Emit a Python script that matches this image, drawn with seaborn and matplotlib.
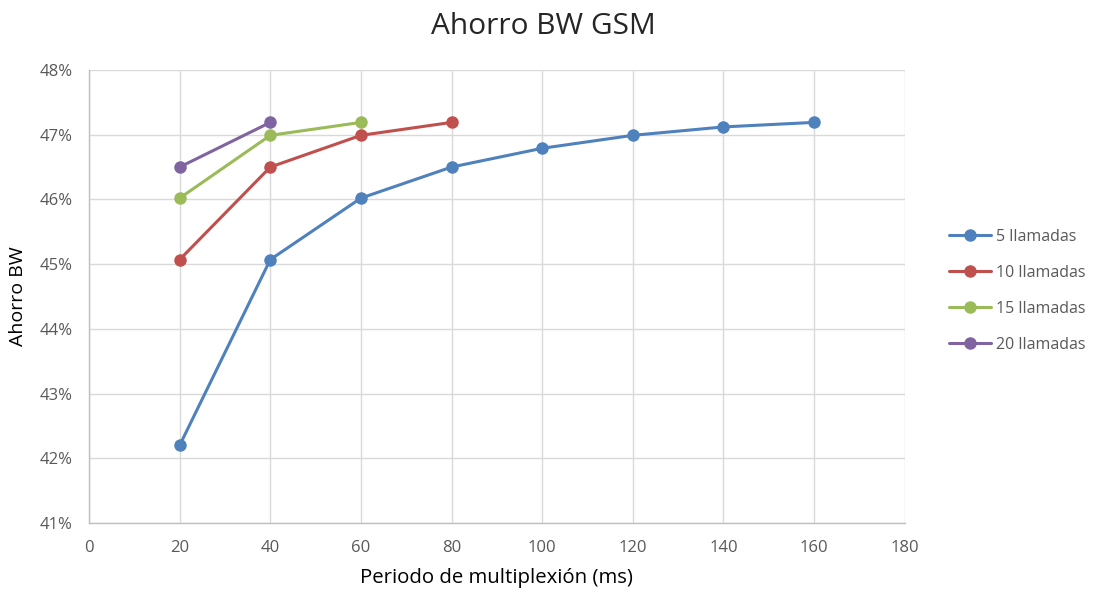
import matplotlib
matplotlib.use("Agg")
import matplotlib.pyplot as plt
import seaborn as sns
import pandas as pd
from matplotlib.ticker import FuncFormatter, MultipleLocator

periodo = [20, 40, 60, 80, 100, 120, 140, 160]
series_names = ["5 llamadas", "10 llamadas", "15 llamadas", "20 llamadas"]
s5 = [42.2, 45.07, 46.02, 46.5, 46.79, 46.99, 47.12, 47.19]
s10 = [45.07, 46.5, 46.99, 47.19]
s15 = [46.02, 46.99, 47.19]
s20 = [46.5, 47.19]
colors = ["#4f81bd", "#c0504d", "#9bbb59", "#8064a2"]

rows = []
for name, vals in zip(series_names, [s5, s10, s15, s20]):
    for x, v in zip(periodo, vals):
        rows.append({"Periodo": x, "Ahorro": v, "Serie": name})
df = pd.DataFrame(rows)

sns.set_theme(style="white")
plt.rcParams['font.family'] = ['Open Sans', 'DejaVu Sans']

fig = plt.figure(figsize=(10.94, 5.92), dpi=100)
ax = fig.add_axes([0.0814, 0.1166, 0.7456, 0.7652])

sns.lineplot(data=df, x="Periodo", y="Ahorro", hue="Serie", hue_order=series_names,
             palette=colors, marker="o", markersize=9, markeredgewidth=0,
             linewidth=2.2, ax=ax, sort=False)

ax.set_xlim(0, 180)
ax.set_ylim(41, 48)
ax.xaxis.set_major_locator(MultipleLocator(20))
ax.yaxis.set_major_locator(MultipleLocator(1))
ax.yaxis.set_major_formatter(FuncFormatter(lambda v, p: f"{v:.0f}%"))
ax.grid(True, color="#d9d9d9", linewidth=1)
ax.set_axisbelow(True)
for s in ["top", "right"]:
    ax.spines[s].set_visible(False)
for s in ["left", "bottom"]:
    ax.spines[s].set_color("#bfbfbf")
    ax.spines[s].set_linewidth(1)
ax.tick_params(axis="both", labelsize=12, colors="#595959", length=0)
ax.tick_params(axis="x", pad=12)
ax.tick_params(axis="y", pad=12)

ax.set_xlabel("Periodo de multiplexión (ms)", fontsize=14.7, color="black", labelpad=9)
ax.set_ylabel("Ahorro BW", fontsize=14, color="black", labelpad=9)
fig.suptitle("Ahorro BW GSM", fontsize=21.5, x=0.497, y=0.98)

leg = ax.legend(loc="center left", bbox_to_anchor=(1.037, 0.512), frameon=False,
                fontsize=11.5, labelspacing=1.25, handlelength=2.6, handletextpad=0.3)
for t in leg.get_texts():
    t.set_color("#595959")

fig.savefig("out.png", dpi=100)
